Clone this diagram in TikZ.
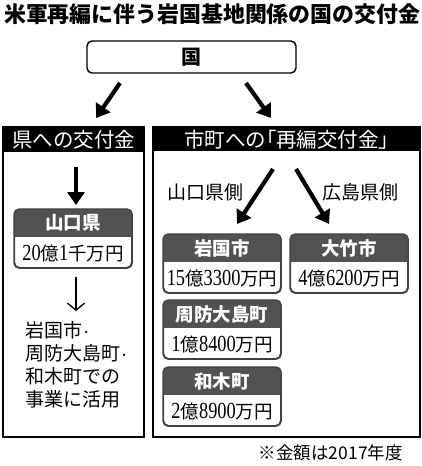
\documentclass[tikz,border=0pt]{standalone}
\usepackage{fontspec}
\usetikzlibrary{arrows.meta,calc}
\newfontfamily\jp{Noto Sans CJK JP}
\newfontfamily\jpp{Noto Sans CJK JP}[RawFeature=+palt]
\newfontfamily\numf{Liberation Serif}[FakeStretch=0.8]
\newfontfamily\dotf{Liberation Sans}
\newcommand\nm[1]{{\numf\fontsize{23}{24}\selectfont #1}}
\newcommand\mdot{{\dotf\fontsize{19}{23}\selectfont\kern1pt·}}
\tikzset{
  panel/.style={draw=black,line width=1.3pt},
  hdrbar/.style={fill=black},
  hdrtext/.style={text=white,font=\jp\fontsize{20.5}{22}\selectfont,inner sep=0pt},
  bigarrow/.style={line width=4.2pt,-{Triangle[width=17pt,length=13pt]}},
  thinarrow/.style={line width=1.3pt,-{Straight Barb[length=7pt,width=17pt,line width=1.3pt]}},
  amtframe/.style={draw=black!75,line width=1.2pt,rounded corners=5pt,minimum width=117pt,minimum height=58pt,inner sep=0pt,anchor=north west},
  amttitle/.style={text=white,font=\jp\bfseries\fontsize{18.5}{20}\selectfont,inner sep=0pt},
  amtvalue/.style={font=\jp\fontsize{18.5}{20}\selectfont,inner sep=0pt},
  side/.style={font=\jp\fontsize{19}{21}\selectfont,inner sep=0pt},
}
\newcommand\amtbox[5]{%
  \node[amtframe] (#1) at (#2,#3) {};
  \begin{scope}
    \clip[rounded corners=5pt] (#1.north west) rectangle (#1.south east);
    \fill[black!68] (#1.north west) rectangle ($(#1.north east)+(0,28)$);
  \end{scope}
  \draw[draw=black!75,line width=1.2pt,rounded corners=5pt] (#1.north west) rectangle (#1.south east);
  \node[amttitle] (#1t) at ($(#1.north)+(0,14)$) {#4};
  \node[amtvalue] (#1v) at ($(#1.south)+(0,-15)$) {#5};
}
\begin{document}
\begin{tikzpicture}[x=1pt,y=-1pt]
\useasboundingbox[fill=white] (0,0) rectangle (421,466);
% title
\node[font=\jp\bfseries\fontsize{21.9}{24}\selectfont,inner sep=0pt,anchor=west] (title) at (4,14) {米軍再編に伴う岩国基地関係の国の交付金};
% kuni box
\node[draw=black,line width=1.4pt,rounded corners=5pt,minimum width=209pt,minimum height=32pt,inner sep=0pt,font=\jp\bfseries\fontsize{20}{22}\selectfont] (kuni) at (191.5,57) {国};
\coordinate (la1) at (120,83); \coordinate (la2) at (96,118);
\coordinate (ra1) at (246,83); \coordinate (ra2) at (271,118);
\draw[bigarrow] (la1) -- (la2);
\draw[bigarrow] (ra1) -- (ra2);
% left panel
\node[panel,minimum width=140pt,minimum height=309pt,inner sep=0pt,anchor=north west] (lp) at (3,127) {};
\fill[hdrbar] (lp.north west) rectangle ($(lp.north east)+(0,25)$);
\draw[panel] (lp.north west) rectangle (lp.south east);
\node[hdrtext] (lph) at ($(lp.north)+(0,13)$) {県への交付金};
% right panel
\node[panel,minimum width=266pt,minimum height=309pt,inner sep=0pt,anchor=north west] (rp) at (153,127) {};
\fill[hdrbar] (rp.north west) rectangle ($(rp.north east)+(0,24)$);
\draw[panel] (rp.north west) rectangle (rp.south east);
\node[hdrtext,font=\jpp\fontsize{20.5}{22}\selectfont] (rph) at ($(rp.north)+(0,12.5)$) {市町への「再編交付金」};
% left content
\coordinate (ld1) at (76,167); \coordinate (ld2) at (76,205);
\draw[bigarrow] (ld1) -- (ld2);
\amtbox{yam}{14}{209}{山口県}{\nm{20}億\nm{1}千万円}
\coordinate (lt1) at (76,277); \coordinate (lt2) at (76,311);
\draw[thinarrow] (lt1) -- (lt2);
\node[font=\jp\fontsize{19}{23}\selectfont,align=left,inner sep=0pt,anchor=north west] (use) at (25,321) {岩国市\mdot\\周防大島町\mdot\\和木町での\\事業に活用};
% right content
\coordinate (rl1) at (273,169); \coordinate (rl2) at (237,224);
\coordinate (rr1) at (296,169); \coordinate (rr2) at (329,224);
\draw[bigarrow] (rl1) -- (rl2);
\draw[bigarrow] (rr1) -- (rr2);
\node[side] (yside) at (205.5,192) {山口県側};
\node[side] (hside) at (360.5,192) {広島県側};
\amtbox{iwa}{163}{234}{岩国市}{\nm{15}億\nm{3300}万円}
\amtbox{oot}{290}{234}{大竹市}{\nm{4}億\nm{6200}万円}
\amtbox{suo}{163}{300}{周防大島町}{\nm{1}億\nm{8400}万円}
\amtbox{wak}{163}{367}{和木町}{\nm{2}億\nm{8900}万円}
% footnote
\node[font=\jp\fontsize{17.5}{20}\selectfont,inner sep=0pt,anchor=east] (note) at (403,453) {※金額は2017年度};
\end{tikzpicture}
\end{document}
